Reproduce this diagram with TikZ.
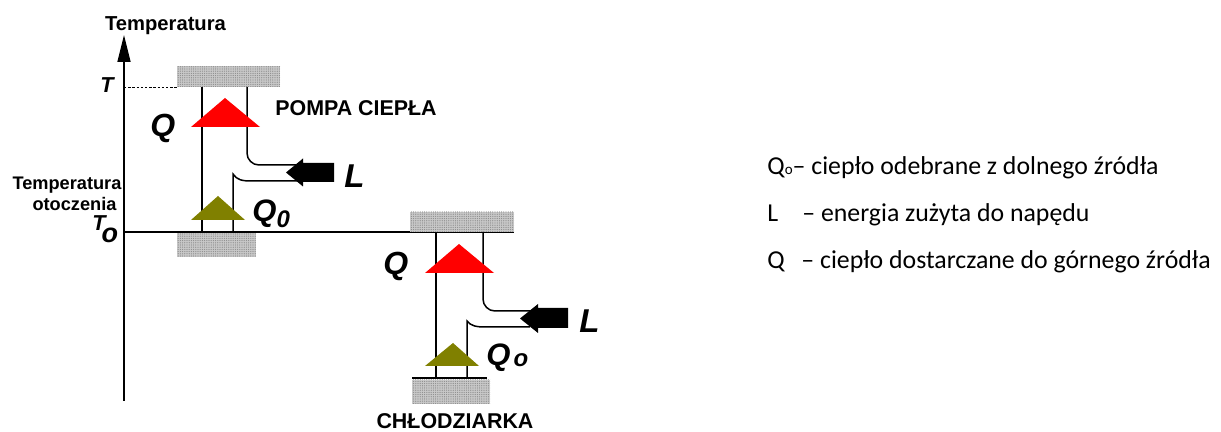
\documentclass[tikz,border=0pt]{standalone}
\usepackage{fontspec}
\usepackage{graphicx}
\setmainfont{Liberation Sans}
\newfontfamily\legendfont{Carlito}
\usetikzlibrary{arrows.meta,patterns.meta}

\definecolor{heatred}{RGB}{255,0,0}
\definecolor{coldolive}{RGB}{128,128,0}
\definecolor{blockgray}{RGB}{200,200,200}

% bold caption text of a given size
\newcommand{\boldcap}[2]{{\fontsize{#1}{#1}\selectfont\bfseries #2}}
% large bold italic symbols
\newcommand{\bigsym}[2]{{\fontsize{#1}{#1}\selectfont\bfseries\itshape #2}}

\begin{document}
\begin{tikzpicture}[x=0.5pt,y=-0.5pt,
  line/.style={line width=0.75pt},
  reservoir/.style={fill=blockgray,
    postaction={pattern={Dots[distance=1.1pt,radius=0.32pt]},pattern color=black!45}},
  lbl/.style={inner sep=0pt,anchor=base west},
  centerlbl/.style={inner sep=0pt,anchor=base},
  legend/.style={inner sep=0pt,anchor=base west,font=\legendfont\fontsize{12.9}{15}\selectfont},
  blockarrow/.style={fill=black}]

\useasboundingbox (0,0) rectangle (1221,432);

% ---------- axes ----------
\coordinate (axisBottom) at (124,401);
\coordinate (axisTop) at (124,35);
\coordinate (axisRight) at (514,232);
\coordinate (levelT) at (124,87);
\draw[line,-{Triangle[length=13.5pt,width=6.5pt]}] (axisBottom) -- (axisTop);
\coordinate (origin) at (124,232);
\draw[line] (origin) -- (axisRight);

\node[centerlbl] (tempTop) at (165.5,31) {\boldcap{10.1}{Temperatura}};
\node[centerlbl] (tempAmb1) at (67,190) {\boldcap{9.1}{Temperatura}};
\node[centerlbl] (tempAmb2) at (74.5,211) {\boldcap{9.1}{otoczenia}};
\node[centerlbl] (labT) at (107,92.5) {\bigsym{10.8}{T}};
\node[lbl] (labTo) at (92,231) {\bigsym{10.8}{T}\kern-2pt\raisebox{-6pt}{\bigsym{13.5}{o}}};

% ---------- heat pump ----------
\path[reservoir] (177,66) rectangle (280,87);
\path[reservoir] (177,233) rectangle (256,257);
\coordinate (pumpHotEdge) at (177,87);
\draw[line width=0.45pt,dash pattern=on 1.2pt off 0.9pt] (levelT) -- (pumpHotEdge);

\coordinate (pA1) at (202,87);  \coordinate (pA2) at (202,232);
\draw[line] (pA1) -- (pA2);
\coordinate (pB1) at (247,87);  \coordinate (pB2) at (247,165); \coordinate (pB3) at (305,165);
\draw[line,rounded corners=6pt] (pB1) -- (pB2) -- (pB3);
\coordinate (pC1) at (233,232); \coordinate (pC2) at (233,174); \coordinate (pC3) at (305,181);
\draw[line] (pC1) -- (pC2) .. controls (237,180) and (242,181) .. (252,181) -- (pC3);

\fill[heatred] (191,127) -- (260,127) -- (225,98) -- cycle;
\fill[coldolive] (191,220) -- (245,220) -- (218,196) -- cycle;

\fill[blockarrow] (286,172.5) -- (303,158.5) -- (303,163) -- (334,163) -- (334,182)
  -- (303,182) -- (303,186.5) -- cycle;

\node[lbl] (pumpQ) at (150,137) {\bigsym{16}{Q}};
\node[lbl] (pumpL) at (344,188) {\bigsym{16.5}{L}};
\node[lbl] (pumpQo) at (252,222) {\bigsym{15.5}{Q}\raisebox{-3pt}{\bigsym{12}{0}}};
\node[lbl] (pumpName) at (275,116) {\boldcap{10.7}{POMPA CIEPŁA}};

% ---------- refrigerator ----------
\path[reservoir] (410,212) rectangle (514,232);
\path[reservoir] (412,380) rectangle (490,404);
\coordinate (fBase1) at (412,378); \coordinate (fBase2) at (487,378);
\draw[line] (fBase1) -- (fBase2);

\coordinate (fA1) at (436,232); \coordinate (fA2) at (436,378);
\draw[line] (fA1) -- (fA2);
\coordinate (fB1) at (483,232); \coordinate (fB2) at (483,311); \coordinate (fB3) at (530,311);
\draw[line,rounded corners=6pt] (fB1) -- (fB2) -- (fB3);
\coordinate (fC1) at (467,378); \coordinate (fC2) at (467,321); \coordinate (fC3) at (530,327);
\draw[line] (fC1) -- (fC2) .. controls (471,326) and (476,327) .. (486,327) -- (fC3);

\fill[heatred] (425,273) -- (494,273) -- (459,244) -- cycle;
\fill[coldolive] (425,366) -- (479,366) -- (453,343) -- cycle;

\fill[blockarrow] (520,318.5) -- (538,304) -- (538,308) -- (568,308) -- (568,328)
  -- (538,328) -- (538,333) -- cycle;

\node[lbl] (fridgeQ) at (383,275) {\bigsym{16}{Q}};
\node[lbl] (fridgeL) at (579,333) {\bigsym{16.5}{L}};
\node[lbl] (fridgeQo) at (486,366) {\bigsym{15.5}{Q}\kern1.5pt\raisebox{-0.5pt}{\bigsym{12}{o}}};
\node[centerlbl] (fridgeName) at (455,429) {\boldcap{10.7}{CHŁODZIARKA}};

% ---------- legend ----------
\node[legend] (legQo) at (767,175) {Q{\fontsize{7.5}{8}\selectfont o}– ciepło odebrane z dolnego źródła};
\node[legend] (legL) at (767,222) {\makebox[17.5pt][l]{L}– energia zużyta do napędu};
\node[legend] (legQ) at (767,268.5) {\makebox[17pt][l]{Q}– ciepło dostarczane do górnego źródła};

\end{tikzpicture}
\end{document}
